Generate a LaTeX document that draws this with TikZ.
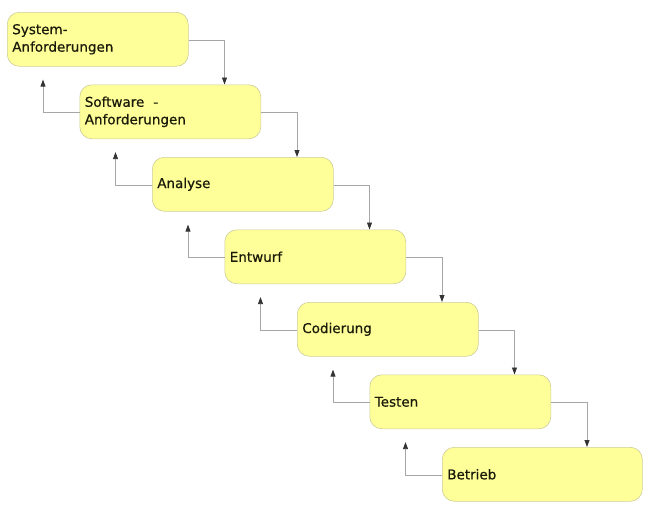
\documentclass[tikz,border=0pt]{standalone}
\usepackage{fontspec}
\setmainfont{DejaVu Sans}[FakeBold=0.6]
\usetikzlibrary{arrows.meta,calc}
\definecolor{boxfill}{HTML}{FFFF99}
\definecolor{boxline}{HTML}{CDCD9A}
\definecolor{connline}{HTML}{A6A6A6}
\definecolor{tipcol}{HTML}{333333}
\definecolor{txt}{HTML}{1A1A0A}
\begin{document}
\begin{tikzpicture}[x=1pt,y=1pt,
  phase/.style={draw=boxline, line width=0.6pt, fill=boxfill, rounded corners=12pt,
    anchor=north west, minimum width=181pt, minimum height=54pt, text width=171pt,
    inner sep=5pt, align=left, text=txt, font=\fontsize{13.5}{17.5}\selectfont},
  conn/.style={draw=connline, line width=0.8pt, -{Triangle[length=7pt,width=5pt,fill=tipcol,color=tipcol]}}
]
\useasboundingbox (0,0) rectangle (658,-530);
\node[phase] (b1) at (7,-12) {System-\\Anforderungen};
\node[phase] (b2) at (79.5,-84.5) {Software\ \ -\\Anforderungen};
\node[phase] (b3) at (152,-157) {Analyse};
\node[phase] (b4) at (224.5,-229.5) {Entwurf};
\node[phase] (b5) at (297,-302) {Codierung};
\node[phase] (b6) at (369.5,-374.5) {Testen};
\node[phase, minimum width=200pt, text width=190pt] (b7) at (442,-447) {Betrieb};
\foreach \a/\b in {b1/b2,b2/b3,b3/b4,b4/b5,b5/b6,b6/b7}{
  \draw[conn] ($(\a.east)+(0,-1)$) -| ($(\b.north west)+(145,0)$);
  \draw[conn] ($(\b.west)+(0,-1)$) -| ($(\a.south west)+(36,-13)$);
}
\end{tikzpicture}
\end{document}
